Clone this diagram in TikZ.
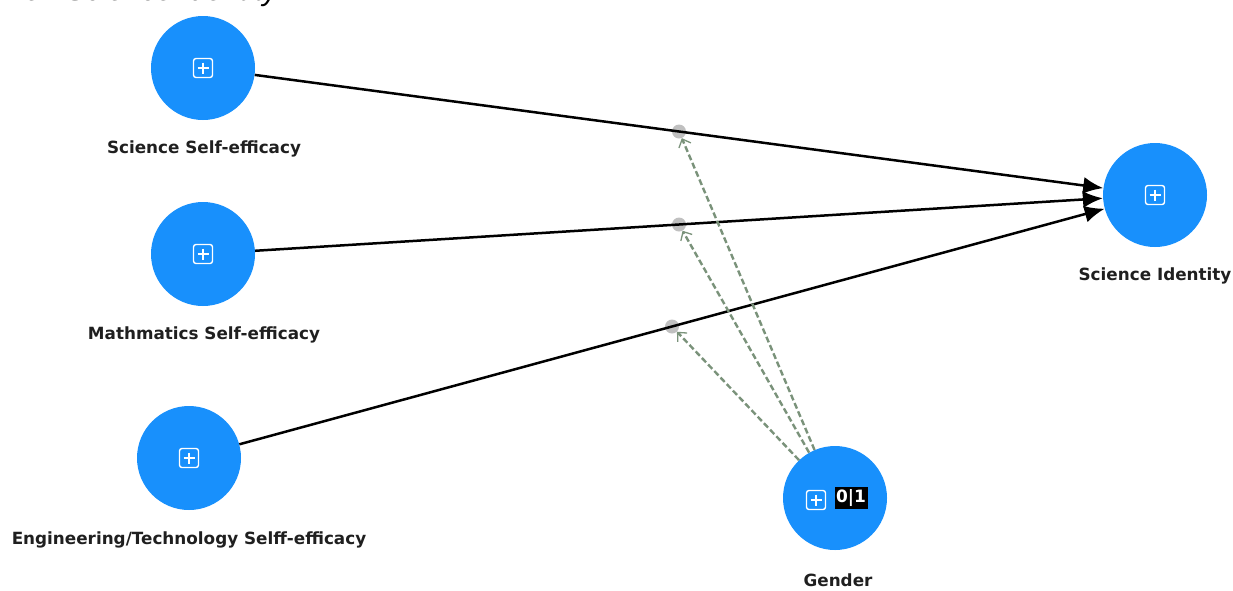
\documentclass[tikz,border=0pt]{standalone}
\usepackage{fontspec}
\setmainfont{Liberation Sans}
\newfontfamily\lblfont{DejaVu Sans}
\usetikzlibrary{arrows.meta,calc}
\definecolor{nodeblue}{RGB}{24,144,252}
\definecolor{modgreen}{RGB}{122,146,122}
\definecolor{dotgray}{RGB}{192,192,192}
\newcommand\plusicon[1]{%
  \draw[white,line width=1.4pt,rounded corners=2.5pt] ($(#1)+(-9.5,-9.5)$) rectangle ($(#1)+(9.5,9.5)$);
  \draw[white,line width=1.4pt] ($(#1)+(-5.5,0)$) -- ($(#1)+(5.5,0)$) ($(#1)+(0,-5.5)$) -- ($(#1)+(0,5.5)$);}
\begin{document}
\begin{tikzpicture}[x=1pt,y=-1pt,
  latent/.style={circle, fill=nodeblue, minimum size=104pt, inner sep=0pt},
  lbl/.style={font=\lblfont\fontsize{16.8}{19}\selectfont\bfseries, text=black!88},
  mdot/.style={circle, fill=dotgray, minimum size=14pt, inner sep=0pt},
  effect/.style={line width=2.5pt, -{Latex[length=20pt,width=17pt]}},
  moder/.style={modgreen, line width=2.4pt, dash pattern=on 6pt off 3pt,
     -{Straight Barb[length=7pt,width=13pt,line width=1.3pt]}}]
\useasboundingbox (0,0) rectangle (1233,590);
\node[anchor=base east, font=\itshape\fontsize{30}{34}\selectfont, inner sep=0pt] (title) at (278,0.5) {on Science Identity};

\node[latent] (sse) at (203,68) {};
\node[latent] (mse) at (203,254) {};
\node[latent] (ese) at (189,458) {};
\node[latent] (sid) at (1155,195) {};
\node[latent] (gen) at (835,498) {};

\node[lbl] (lsse) at (204,149) {Science Self-efficacy};
\node[lbl] (lmse) at (204,335) {Mathmatics Self-efficacy};
\node[lbl] (lese) at (189,540) {Engineering/Technology Selff-efficacy};
\node[lbl] (lsid) at (1155,276) {Science Identity};
\node[lbl] (lgen) at (838,580) {Gender};

\plusicon{sse}
\plusicon{mse}
\plusicon{ese}
\plusicon{sid}
\plusicon{816,500}
\node[fill=black, text=white, inner sep=0pt, minimum width=33pt, minimum height=22pt,
  font=\lblfont\fontsize{17}{19}\selectfont\bfseries] (bin) at (851,498) {0|1};

\node[mdot] (d1) at ($(sse)!0.5!(sid)$) {};
\node[mdot] (d2) at ($(mse)!0.5!(sid)$) {};
\node[mdot] (d3) at ($(ese)!0.5!(sid)$) {};

\draw[effect] (sse) -- (sid);
\draw[effect] (mse) -- (sid);
\draw[effect] (ese) -- (sid);

\draw[moder] (gen) -- (d1);
\draw[moder] (gen) -- (d2);
\draw[moder] (gen) -- (d3);
\end{tikzpicture}
\end{document}
